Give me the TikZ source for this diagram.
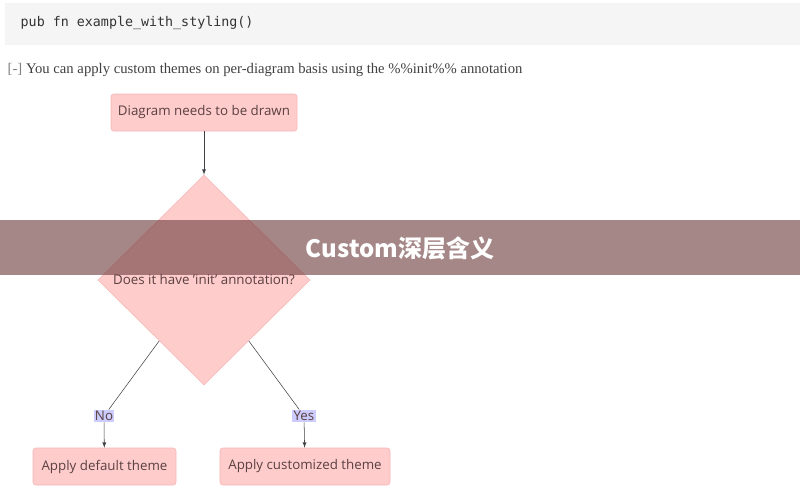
\documentclass[tikz,border=0pt]{standalone}
\usepackage{fontspec}
\setmainfont{Liberation Serif}
\setsansfont{Open Sans}
\setmonofont{DejaVu Sans Mono}
\newfontfamily\cjkfont{Noto Sans CJK SC}
\usetikzlibrary{positioning}
\usetikzlibrary{shapes.geometric}
\definecolor{boxfill}{HTML}{FFCCCC}
\definecolor{boxline}{HTML}{F4B6B6}
\definecolor{boxtext}{HTML}{5A4040}
\definecolor{lblfill}{HTML}{CCCCFF}
\definecolor{codebg}{HTML}{F5F5F5}
\definecolor{bandcol}{HTML}{6E3E3E}
\begin{document}
\begin{tikzpicture}[x=0.75pt,y=-0.75pt,
    stepbox/.style={draw=boxline, fill=boxfill, rounded corners=2pt, text=boxtext,
      font=\sffamily\fontsize{10}{12}\selectfont, inner sep=0pt, minimum height=27.75pt},
    lbl/.style={fill=lblfill, text=boxtext, font=\sffamily\fontsize{10}{12}\selectfont, inner sep=1pt}]
            \useasboundingbox (0,0) rectangle (800,497);
            % Kopf
            \fill[codebg] (5,3) rectangle (800,45);
            \node[anchor=west, font=\ttfamily\fontsize{10}{12}\selectfont, text=black!80] (code) at (16,23) {pub fn example\_with\_styling()};
            \node[anchor=west, font=\fontsize{11}{13}\selectfont, text=black!75] (note) at (3,70) {{\color{black!50}[-]} You can apply custom themes on per-diagram basis using the \%\%init\%\% annotation};

            % Nodos
            \node[stepbox, minimum width=139.5pt] (drawn) at (204,112.5) {Diagram needs to be drawn};
            \node[draw=boxline, fill=boxfill, diamond, minimum width=159pt, minimum height=157.5pt, inner sep=0pt, text=boxtext,
              font=\sffamily\fontsize{10}{12}\selectfont] (init) at (204,280) {Does it have 'init' annotation?};
            \node[lbl] (no) at (104,416) {No};
            \node[lbl] (yes) at (304,416) {Yes};
            \node[stepbox, minimum width=107.25pt] (default) at (104.5,466.5) {Apply default theme};
            \node[stepbox, minimum width=127.5pt] (custom) at (305,466.5) {Apply customized theme};

            % Aristas
            \draw[->, >=latex, black!75] (drawn) -- (init);
            \draw[black!75] (init) -- (no);
            \draw[black!75] (init) -- (yes);
            \draw[->, >=latex, black!75] (no) -- (default);
            \draw[->, >=latex, black!75] (yes) -- (custom);

            % Banner
            \fill[bandcol, opacity=0.62] (0,220) rectangle (800,275);
            \node[text=white, font=\cjkfont\bfseries\fontsize{18}{20}\selectfont] (banner) at (400,248) {Custom深层含义};
          \end{tikzpicture}
\end{document}
